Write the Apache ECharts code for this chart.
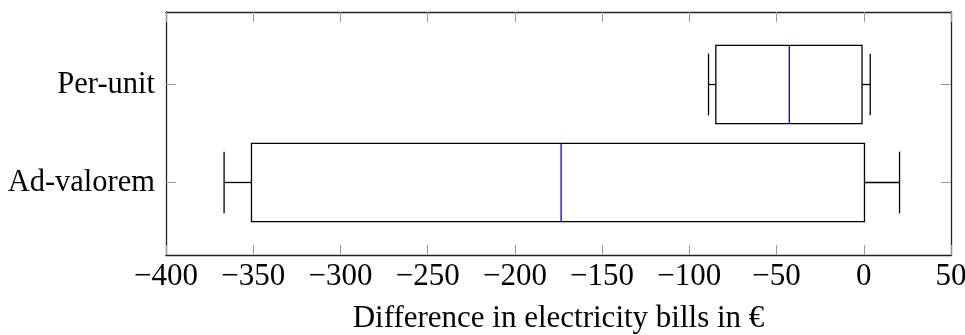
<!DOCTYPE html>
<html>
<head>
<meta charset="utf-8">
<script src="https://cdn.jsdelivr.net/npm/echarts@6/dist/echarts.min.js"></script>
<style>
  html, body { margin: 0; padding: 0; background: #fff; }
  #chart { width: 965px; height: 335px; }
</style>
</head>
<body>
<div id="chart"></div>
<script>
// Box plot of bill differences for two tariff schemes
const categories = ['Ad-valorem', 'Per-unit'];   // bottom to top
const positions = [1, 2];
const lowerWhisker = [-366.7, -89.0];
const lowerQuartile = [-351.0, -84.8];
const medianValue = [-173.5, -42.7];
const upperQuartile = [0.4, -1.0];
const upperWhisker = [20.5, 3.7];
const xTicks = { min: -400, max: 50, step: 50 };

const FONT = 'Liberation Serif';
const BOX_HALF = 0.4;
const CAP_HALF = 0.315;

const rows = categories.map((c, i) => [
  positions[i], lowerWhisker[i], lowerQuartile[i], medianValue[i], upperQuartile[i], upperWhisker[i]
]);

function fmtTick(v) {
  return v < 0 ? '\u2212' + Math.abs(v) : String(v);
}

function renderBox(params, api) {
  const pos = api.value(0);
  const lw = api.value(1), q1 = api.value(2), med = api.value(3), q3 = api.value(4), uw = api.value(5);
  const tl = api.coord([q1, pos + BOX_HALF]);
  const br = api.coord([q3, pos - BOX_HALF]);
  const line = (a, b, color) => ({
    type: 'line',
    shape: { x1: a[0], y1: a[1], x2: b[0], y2: b[1] },
    style: { stroke: color || '#000', lineWidth: 1.3 }
  });
  return {
    type: 'group',
    children: [
      {
        type: 'rect',
        shape: { x: tl[0], y: tl[1], width: br[0] - tl[0], height: br[1] - tl[1] },
        style: { fill: 'none', stroke: '#000', lineWidth: 1.3 }
      },
      line(api.coord([med, pos + BOX_HALF]), api.coord([med, pos - BOX_HALF]), '#0000ee'),
      line(api.coord([lw, pos]), api.coord([q1, pos])),
      line(api.coord([q3, pos]), api.coord([uw, pos])),
      line(api.coord([lw, pos + CAP_HALF]), api.coord([lw, pos - CAP_HALF])),
      line(api.coord([uw, pos + CAP_HALF]), api.coord([uw, pos - CAP_HALF]))
    ]
  };
}

const frameLine = { show: true, onZero: false, lineStyle: { color: '#222', width: 1.3 } };
const innerTick = { show: true, inside: true, length: 10, lineStyle: { color: '#999', width: 1 } };

const chart = echarts.init(document.getElementById('chart'), null, { renderer: 'canvas' });
chart.setOption({
  animation: false,
  backgroundColor: '#fff',
  grid: {
    left: 166, right: 14, top: 12, bottom: 80,
    containLabel: false, outerBoundsMode: 'none'
  },
  xAxis: [
    {
      type: 'value', position: 'bottom',
      min: xTicks.min, max: xTicks.max, interval: xTicks.step,
      axisLine: frameLine, axisTick: innerTick, splitLine: { show: false },
      axisLabel: { formatter: fmtTick, color: '#000', fontFamily: FONT, fontSize: 31, margin: 6 },
      name: 'Difference in electricity bills in \u20ac',
      nameLocation: 'middle', nameGap: 48,
      nameTextStyle: { color: '#000', fontFamily: FONT, fontSize: 31 }
    },
    {
      type: 'value', position: 'top',
      min: xTicks.min, max: xTicks.max, interval: xTicks.step,
      axisLine: frameLine, axisTick: innerTick, splitLine: { show: false },
      axisLabel: { show: false }
    }
  ],
  yAxis: [
    {
      type: 'value', position: 'left', min: 0.26, max: 2.74,
      axisLine: frameLine,
      axisTick: Object.assign({}, innerTick, { customValues: positions }),
      splitLine: { show: false },
      axisLabel: {
        customValues: positions,
        formatter: v => categories[positions.indexOf(v)] || '',
        color: '#000', fontFamily: FONT, fontSize: 30.5, margin: 11
      }
    },
    {
      type: 'value', position: 'right', min: 0.26, max: 2.74,
      axisLine: frameLine,
      axisTick: Object.assign({}, innerTick, { customValues: positions }),
      splitLine: { show: false },
      axisLabel: { show: false }
    }
  ],
  series: [{
    type: 'custom',
    xAxisIndex: 0, yAxisIndex: 0,
    renderItem: renderBox,
    encode: { x: [1, 2, 3, 4, 5], y: 0 },
    data: rows,
    clip: false
  }]
});
</script>
</body>
</html>
